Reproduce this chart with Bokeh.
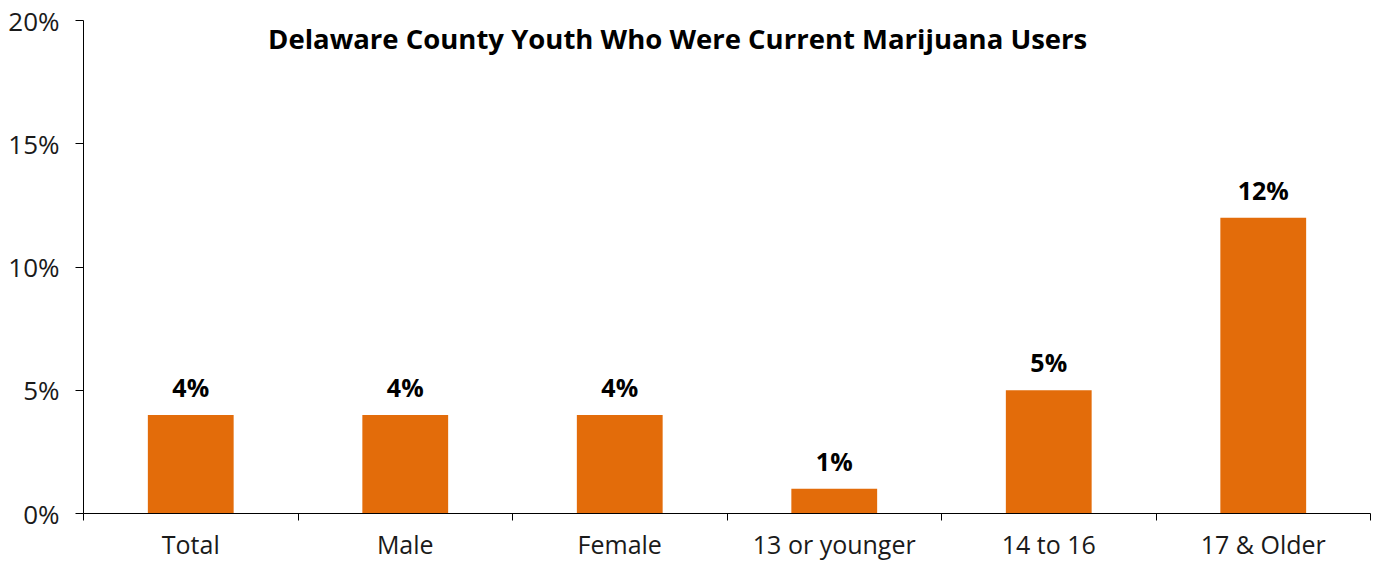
import numpy as np
from bokeh.plotting import figure
from bokeh.models import (ColumnDataSource, Range1d, FixedTicker,
                          PrintfTickFormatter, Label)
from bokeh.core.properties import value
from bokeh.embed import file_html
from bokeh.resources import INLINE

categories = ["Total", "Male", "Female", "13 or younger", "14 to 16", "17 & Older"]
values = [4, 4, 4, 1, 5, 12]
value_labels = [f"{v}%" for v in values]
y_ticks = [0, 5, 10, 15, 20]
title_text = "Delaware County Youth Who Were Current Marijuana Users"

FONT = "Open Sans"
TXT = "#1a1a1a"
BAR = "#E36C0A"

n = len(categories)
centers = (np.arange(n) + 0.5).tolist()
boundaries = list(range(n + 1))
src = ColumnDataSource(dict(x=centers, val=values, lab=value_labels))

p = figure(width=1378, height=563, output_backend="svg", toolbar_location=None,
           x_range=Range1d(0, n), y_range=Range1d(0, 20),
           min_border_left=83, min_border_right=8, min_border_top=20,
           min_border_bottom=49)
p.outline_line_color = None
p.xgrid.grid_line_color = None
p.ygrid.grid_line_color = None

p.vbar(x="x", top="val", width=0.4, source=src, fill_color=BAR, line_color=None)
p.text(x="x", y="val", text="lab", source=src, text_align="center",
       text_baseline="alphabetic", y_offset=-28, text_font=value(FONT),
       text_font_size="25px", text_font_style="bold", text_color="#000000")

# y axis
ya = p.yaxis[0]
ya.ticker = FixedTicker(ticks=y_ticks)
ya.formatter = PrintfTickFormatter(format="%d%%")
ya.major_tick_out = 8
ya.major_tick_in = 0
ya.minor_tick_line_color = None
ya.axis_line_color = "#000000"
ya.major_tick_line_color = "#000000"
ya.major_label_text_font = FONT
ya.major_label_text_font_size = "26px"
ya.major_label_text_color = TXT
ya.major_label_standoff = 16

# x axis: category labels at centers, boundary ticks as minor ticks
xa = p.xaxis[0]
xa.ticker = FixedTicker(ticks=centers, minor_ticks=boundaries)
xa.major_label_overrides = {c: name for c, name in zip(centers, categories)}
xa.axis_line_color = "#000000"
xa.major_tick_line_color = None
xa.major_tick_out = 0
xa.major_tick_in = 0
xa.minor_tick_line_color = "#000000"
xa.minor_tick_out = 7
xa.minor_tick_in = 0
xa.major_label_text_font = FONT
xa.major_label_text_font_size = "25px"
xa.major_label_text_color = TXT
xa.major_label_standoff = 6

p.add_layout(Label(x=2.77, y=19.28, text=title_text, text_align="center",
                   text_baseline="middle", text_font=FONT,
                   text_font_size="27.5px", text_font_style="bold",
                   text_color="#000000"))

open("out.html", "w").write(file_html(p, INLINE))
